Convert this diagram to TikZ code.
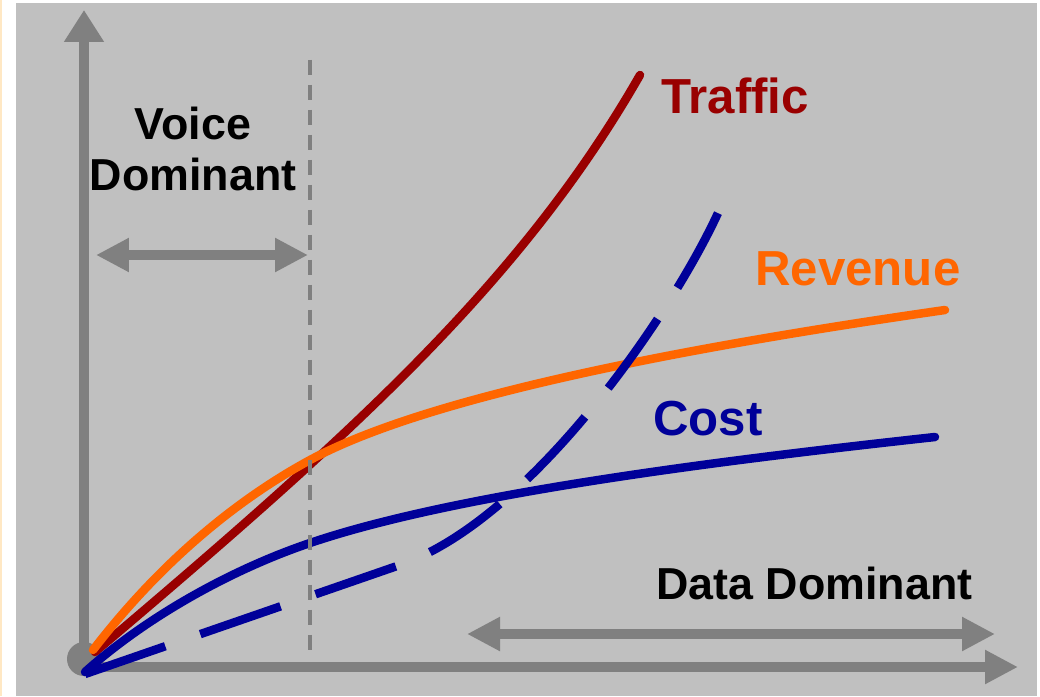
\documentclass[tikz,border=0pt]{standalone}
\usepackage{fontspec}
\setmainfont{Liberation Sans}
\usetikzlibrary{arrows.meta,positioning}
\definecolor{panel}{HTML}{C0C0C0}
\definecolor{axisgray}{HTML}{808080}
\definecolor{trafficred}{HTML}{990000}
\definecolor{revenueorange}{HTML}{FF6600}
\definecolor{costblue}{HTML}{000099}
\definecolor{cream}{HTML}{FFE8C4}

\begin{document}
\begin{tikzpicture}[% one unit = one pixel of the 1040x696 picture, y runs down
		x=0.02cm,y=-0.02cm,
		every node/.style={
			inner sep=0pt		% text sits right on its coordinate
		},
		axis/.style={draw=axisgray,line width=0.2cm},
		span/.style={draw=axisgray,line width=0.19cm,
			{Triangle[length=0.66cm,width=0.64cm]}-{Triangle[length=0.66cm,width=0.64cm]}},
		curve/.style={line width=0.17cm,line cap=round},
		biglabel/.style={font=\bfseries\fontsize{28}{32}\selectfont},
		smalllabel/.style={font=\bfseries\fontsize{25.5}{28.5}\selectfont}
	]
	% frame and grey panel
	\useasboundingbox (0,0) rectangle (1040,696);
	\fill[white] (0,0) rectangle (1040,696);
	\fill[cream] (0,0) rectangle (2,696);
	\fill[panel] (16,3) rectangle (1037,696);

	% axes
	\coordinate (O) at (84,667);
	\coordinate (Ytop) at (84,10);
	\coordinate (Xend) at (1018,667);
	\draw[axis,-{Triangle[length=0.64cm,width=0.76cm]}] (84,667) -- (Ytop);
	\draw[axis,-{Triangle[length=0.66cm,width=0.64cm]}] (79,667) -- (Xend);
	\fill[axisgray] (84,659) circle (17);

	% curves
	\draw[curve,trafficred] (95,652) .. controls (345,440) and (520,285) .. (640,75);
	\draw[curve,revenueorange] (93,650) .. controls (163,559) and (240,498) .. (310,460)
		.. controls (430,395) and (695,346) .. (945,310);
	\draw[curve,costblue] (85,672) .. controls (145,618) and (230,570) .. (310,543)
		.. controls (460,492) and (735,459) .. (935,437);
	\draw[curve,costblue,line cap=butt,dash pattern=on 1.7cm off 0.74cm] (85,674) -- (400,565)
		.. controls (530,520) and (670,317) .. (718,213);

	% voice / data split
	\coordinate (Dtop) at (310,60);
	\coordinate (Dbot) at (310,652);
	\draw[axisgray,line width=0.08cm,dash pattern=on 0.3cm off 0.2cm] (Dtop) -- (Dbot);
	\coordinate (VL) at (96,255);
	\coordinate (VR) at (308,255);
	\draw[span] (VL) -- (VR);
	\coordinate (DL) at (467,634);
	\coordinate (DR) at (995,634);
	\draw[span] (DL) -- (DR);

	% labels
	\node[smalllabel,align=center] (voice) at (193,149) {Voice\\Dominant};
	\node[smalllabel,anchor=base west] (data) at (656,599) {Data Dominant};
	\node[biglabel,text=trafficred,anchor=base west] (traffic) at (661,113) {Traffic};
	\node[biglabel,text=revenueorange,anchor=base west] (revenue) at (755,285) {Revenue};
	\node[biglabel,text=costblue,anchor=base west] (cost) at (653,435) {Cost};
\end{tikzpicture}
\end{document}
